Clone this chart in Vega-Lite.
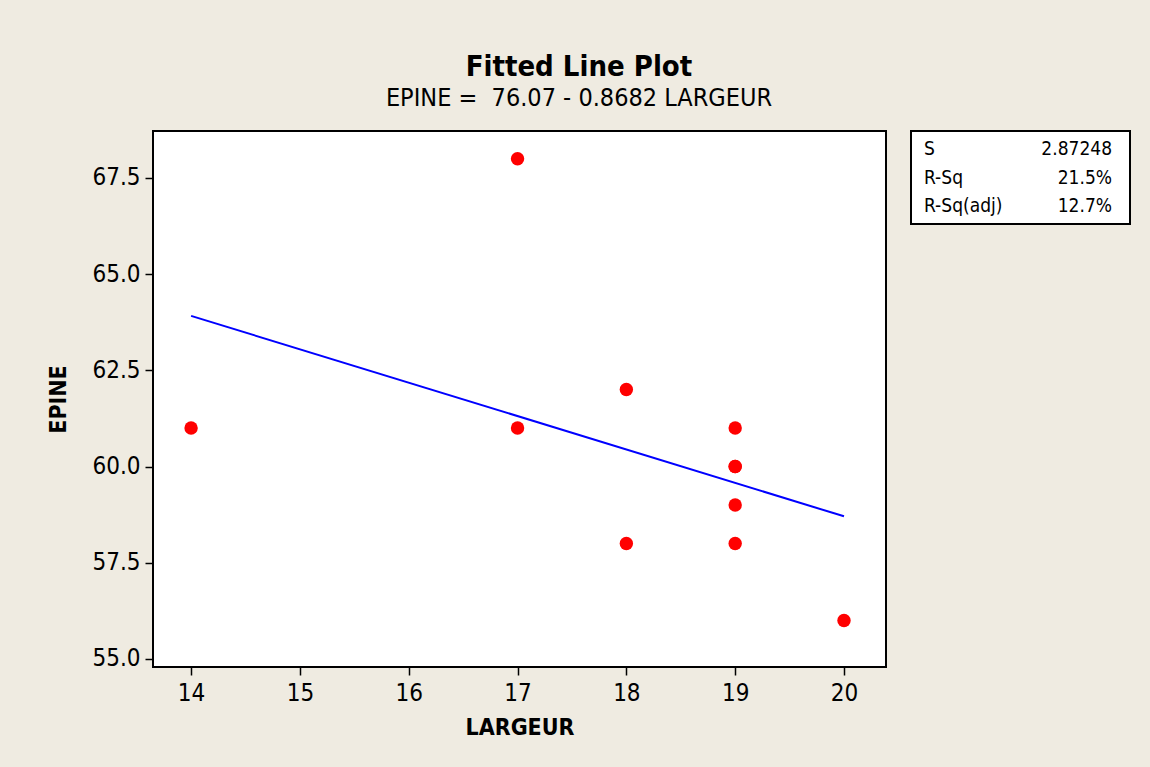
{
  "$schema": "https://vega.github.io/schema/vega-lite/v6.json",
  "background": "#EFEBE1",
  "padding": {"left": 46, "top": 53, "right": 21, "bottom": 34},
  "config": {
    "view": {"stroke": "black", "strokeWidth": 2, "fill": "white"},
    "font": "DejaVu Sans Condensed"
  },
  "title": {
    "text": "Fitted Line Plot",
    "subtitle": "EPINE =\u00a0 76.07 - 0.8682 LARGEUR",
    "anchor": "middle",
    "dx": -10,
    "font": "DejaVu Sans Condensed",
    "fontSize": 29,
    "fontWeight": "bold",
    "color": "black",
    "subtitleFont": "DejaVu Sans Condensed",
    "subtitleFontSize": 25,
    "subtitleColor": "black",
    "subtitlePadding": 4,
    "offset": 19
  },
  "spacing": 23,
  "hconcat": [
    {
      "width": 733,
      "height": 536,
      "data": {
        "values": [
          {"LARGEUR": 14, "EPINE": 61},
          {"LARGEUR": 17, "EPINE": 68},
          {"LARGEUR": 17, "EPINE": 61},
          {"LARGEUR": 18, "EPINE": 62},
          {"LARGEUR": 18, "EPINE": 58},
          {"LARGEUR": 19, "EPINE": 61},
          {"LARGEUR": 19, "EPINE": 60},
          {"LARGEUR": 19, "EPINE": 60},
          {"LARGEUR": 19, "EPINE": 59},
          {"LARGEUR": 19, "EPINE": 58},
          {"LARGEUR": 20, "EPINE": 56}
        ]
      },
      "encoding": {
        "x": {
          "field": "LARGEUR",
          "type": "quantitative",
          "scale": {"domain": [13.65, 20.386], "nice": false, "zero": false},
          "axis": {
            "values": [14, 15, 16, 17, 18, 19, 20],
            "grid": false,
            "domain": false,
            "tickColor": "black",
            "tickSize": 8,
            "tickWidth": 1.5,
            "labelFontSize": 24,
            "labelColor": "black",
            "labelPadding": 6,
            "title": "LARGEUR",
            "titleFontSize": 23,
            "titleFontWeight": "bold",
            "titleColor": "black",
            "titlePadding": 11
          }
        },
        "y": {
          "field": "EPINE",
          "type": "quantitative",
          "scale": {"domain": [54.79, 68.72], "nice": false, "zero": false},
          "axis": {
            "values": [55, 57.5, 60, 62.5, 65, 67.5],
            "format": ".1f",
            "grid": false,
            "domain": false,
            "tickColor": "black",
            "tickSize": 8,
            "tickWidth": 1.5,
            "labelFontSize": 24,
            "labelColor": "black",
            "labelPadding": 5,
            "title": "EPINE",
            "titleFontSize": 23,
            "titleFontWeight": "bold",
            "titleColor": "black",
            "titlePadding": 21
          }
        }
      },
      "layer": [
        {
          "transform": [{"regression": "EPINE", "on": "LARGEUR"}],
          "mark": {"type": "line", "color": "#0000FF", "strokeWidth": 2}
        },
        {
          "mark": {"type": "circle", "color": "#FF0000", "size": 180, "opacity": 1}
        }
      ]
    },
    {
      "width": 219,
      "height": 93,
      "data": {
        "values": [
          {"stat": "S", "value": "2.87248"},
          {"stat": "R-Sq", "value": "21.5%"},
          {"stat": "R-Sq(adj)", "value": "12.7%"}
        ]
      },
      "encoding": {
        "y": {
          "field": "stat",
          "type": "nominal",
          "sort": ["S", "R-Sq", "R-Sq(adj)"],
          "scale": {"type": "point", "padding": 0.63},
          "axis": null
        }
      },
      "layer": [
        {
          "mark": {"type": "text", "align": "left", "baseline": "middle", "fontSize": 19, "color": "black"},
          "encoding": {
            "x": {"datum": 0, "type": "quantitative", "scale": {"domain": [-0.0692, 1.0955]}, "axis": null},
            "text": {"field": "stat"}
          }
        },
        {
          "mark": {"type": "text", "align": "right", "baseline": "middle", "fontSize": 19, "color": "black"},
          "encoding": {
            "x": {"datum": 1, "type": "quantitative", "scale": {"domain": [-0.0692, 1.0955]}, "axis": null},
            "text": {"field": "value"}
          }
        }
      ]
    }
  ]
}
